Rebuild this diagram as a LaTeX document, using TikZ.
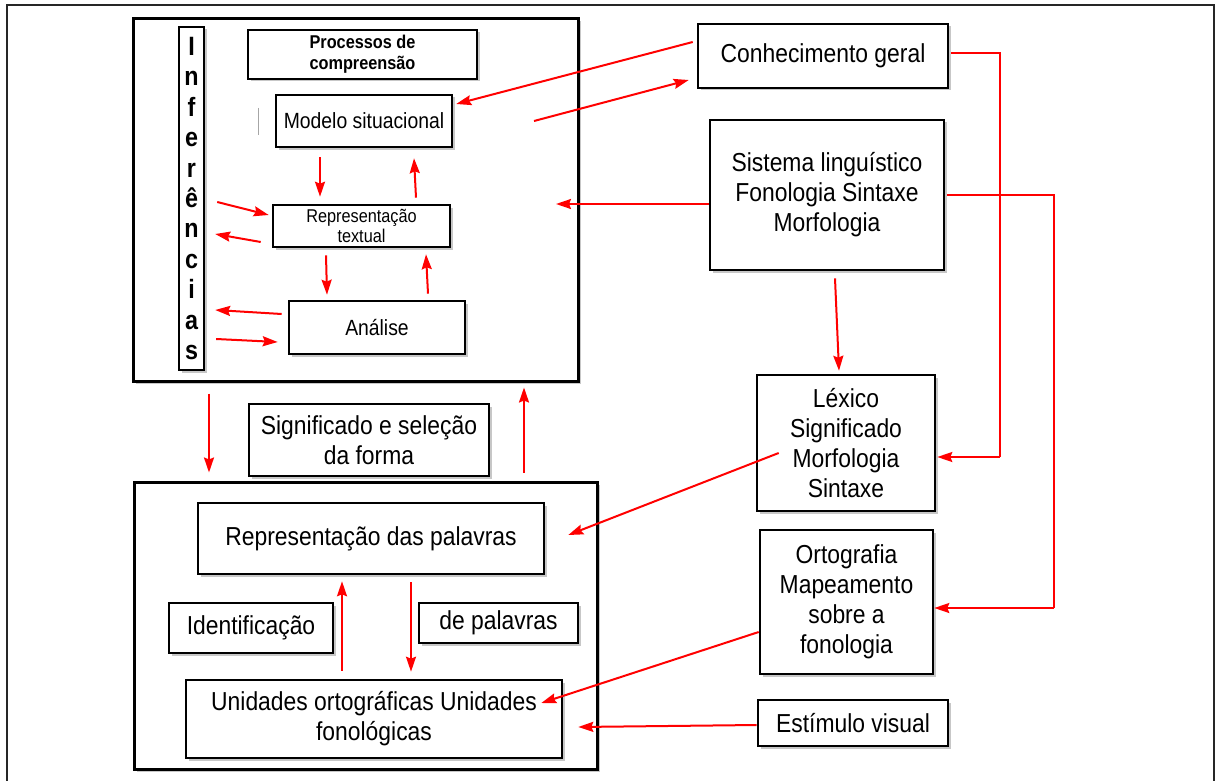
\documentclass[tikz,border=0pt]{standalone}
\usepackage{fontspec}
\setmainfont[FakeStretch=0.88]{Liberation Sans}
\usetikzlibrary{arrows.meta,shadows}
\begin{document}
\begin{tikzpicture}[x=1pt,y=-1pt,
  box/.style={draw=black, line width=2.6pt, fill=white, inner sep=0pt, align=center,
    drop shadow={shadow xshift=2.5pt,shadow yshift=-2.5pt,opacity=0.22,fill=black}},
  big/.style={box, line width=3pt},
  txt/.style={font=\fontsize{26}{30}\selectfont},
  mid/.style={font=\fontsize{22}{26}\selectfont},
  small/.style={font=\fontsize{18.5}{20}\selectfont},
  arr/.style={draw=red, line width=2pt, -{Stealth[length=15pt,width=10pt,inset=2pt]}},
  redline/.style={draw=red, line width=2pt}
]
\useasboundingbox (0,0) rectangle (1215,781);
\fill[white] (0,0) rectangle (1215,781);
% outer frame
\draw[line width=1.6pt, black!85] (7,800) -- (7,5) -- (1214,5) -- (1214,800);

% top block
\node[big, minimum width=445pt, minimum height=362pt] (top) at (355.5,200) {};
\node[box, line width=2.4pt, minimum width=25pt, minimum height=343pt,
  font=\bfseries\fontsize{26.5}{30.4}\selectfont] (infer) at (191.5,198.5)
  {I\\n\\f\\e\\r\\ê\\n\\c\\i\\a\\s};
\node[box, minimum width=229pt, minimum height=49pt,
  font=\bfseries\fontsize{18.5}{21}\selectfont] (proc) at (362.5,54.5)
  {Processos de\\compreensão};
\node[box, mid, minimum width=176pt, minimum height=52pt] (modelo) at (364,121) {Modelo situacional};
\node[box, small, minimum width=177pt, minimum height=42pt] (repT) at (361.5,226) {Representação\\textual};
\node[box, mid, minimum width=176pt, minimum height=53pt] (analise) at (377,327.5) {Análise};
\draw[black!35, line width=1pt] (258,108) -- (258,135);

% right column
\node[box, txt, minimum width=250pt, minimum height=64pt] (conh) at (823,56) {\raisebox{2pt}{Conhecimento geral}};
\node[box, txt, minimum width=234pt, minimum height=150pt] (sist) at (827,195) {Sistema linguístico\\Fonologia Sintaxe\\Morfologia};
\node[box, txt, minimum width=178pt, minimum height=136pt] (lex) at (846,443) {Léxico\\Significado\\Morfologia\\Sintaxe};
\node[box, txt, minimum width=173pt, minimum height=144pt] (orto) at (846.5,602) {Ortografia\\Mapeamento\\sobre a\\fonologia};
\node[box, txt, minimum width=190pt, minimum height=46pt] (estim) at (853,723) {Estímulo visual};

% bottom block
\node[box, txt, minimum width=240pt, minimum height=72pt] (signif) at (369,440) {Significado e seleção\\da forma};
\node[big, minimum width=463pt, minimum height=287pt] (bottom) at (365.5,625.5) {};
\node[box, txt, minimum width=346pt, minimum height=71pt] (repP) at (371,538.5) {Representação das palavras};
\node[box, txt, minimum width=164pt, minimum height=50pt] (ident) at (251,628) {Identificação};
\node[box, txt, minimum width=159pt, minimum height=40pt] (depal) at (498.5,623) {de palavras};
\node[box, txt, minimum width=376pt, minimum height=78pt] (unid) at (374,719) {Unidades ortográficas Unidades\\fonológicas};

% connectors inside top block
\draw[arr] ([shift={(-44,9)}]modelo.south) -- ([shift={(-41.5,-7)}]repT.north);
\draw[arr] ([shift={(54.5,-6)}]repT.north) -- ([shift={(50,10)}]modelo.south);
\draw[arr] ([shift={(12,3.5)}]infer.east) -- ([shift={(-3,-11)}]repT.west);
\draw[arr] ([shift={(-11,16)}]repT.west) -- ([shift={(10,35.5)}]infer.east);
\draw[arr] ([shift={(-35.5,7)}]repT.south) -- ([shift={(-50,-5)}]analise.north);
\draw[arr] ([shift={(51,-6)}]analise.north) -- ([shift={(64.5,6)}]repT.south);
\draw[arr] ([shift={(-6,-13.5)}]analise.west) -- ([shift={(10,111.5)}]infer.east);
\draw[arr] ([shift={(11,140.5)}]infer.east) -- ([shift={(-10,14.5)}]analise.west);

% connectors from right column
\draw[arr] ([shift={(-4,-14)}]conh.west) -- ([shift={(3,-17)}]modelo.east);
\coordinate (kin) at (534,121);
\draw[arr] (kin) -- ([shift={(-8,24)}]conh.west);
\coordinate (ksist) at (556,204);
\draw[arr] ([shift={(0,9)}]sist.west) -- (ksist);
\draw[arr] ([shift={(8,7)}]sist.south) -- ([shift={(-7,-3)}]lex.north);
\coordinate (k1) at (1000,457);
\draw[redline] ([shift={(2,-3)}]conh.east) -| (k1);
\draw[arr] (k1) -- ([shift={(1,14)}]lex.east);
\coordinate (k2) at (1054,608);
\draw[redline] ([shift={(2,0)}]sist.east) -| (k2);
\draw[arr] (k2) -- ([shift={(0,6)}]orto.east);
\draw[arr] ([shift={(23,10)}]lex.west) -- ([shift={(23,-3.5)}]repP.east);
\draw[arr] ([shift={(0,30)}]orto.west) -- ([shift={(-22,-16)}]unid.east);
\draw[arr] ([shift={(0,2)}]estim.west) -- ([shift={(15,8)}]unid.east);

% between blocks
\draw[arr] ([shift={(-146.5,11)}]top.south) -- ([shift={(-156.5,-8)}]bottom.north);
\draw[arr] ([shift={(158.5,-8)}]bottom.north) -- ([shift={(168.5,5)}]top.south);

% inside bottom block
\draw[arr] ([shift={(-32,-8)}]unid.north) -- ([shift={(-29,6)}]repP.south);
\draw[arr] ([shift={(40,7)}]repP.south) -- ([shift={(37,-7)}]unid.north);
\end{tikzpicture}
\end{document}
